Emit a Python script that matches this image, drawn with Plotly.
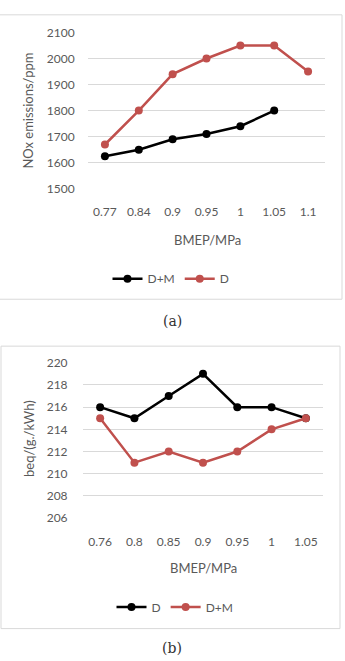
import plotly.graph_objects as go

# ---- data ----
bmep_a = ["0.77", "0.84", "0.9", "0.95", "1", "1.05", "1.1"]
nox_dm = [1625, 1650, 1690, 1710, 1740, 1800]
nox_d = [1670, 1800, 1940, 2000, 2050, 2050, 1950]

bmep_b = ["0.76", "0.8", "0.85", "0.9", "0.95", "1", "1.05"]
beq_d = [216, 215, 217, 219, 216, 216, 215]
beq_dm = [215, 211, 212, 211, 212, 214, 215]

W, H = 345, 661
BLACK = "#000000"
RED = "#C0504D"
GRID = "#D9D9D9"
TXT = "#595959"
FONT = "Lato"


def px(x):
    return x / W


def py(y):
    return 1 - y / H


fig = go.Figure()

fig.add_trace(go.Scatter(x=bmep_a[:len(nox_dm)], y=nox_dm, name="D+M", mode="lines+markers",
                         line=dict(color=BLACK, width=2.5), marker=dict(size=8, color=BLACK),
                         xaxis="x", yaxis="y", legend="legend"))
fig.add_trace(go.Scatter(x=bmep_a, y=nox_d, name="D", mode="lines+markers",
                         line=dict(color=RED, width=2.5), marker=dict(size=8, color=RED),
                         xaxis="x", yaxis="y", legend="legend"))
fig.add_trace(go.Scatter(x=bmep_b, y=beq_d, name="D", mode="lines+markers",
                         line=dict(color=BLACK, width=2.5), marker=dict(size=8, color=BLACK),
                         xaxis="x2", yaxis="y2", legend="legend2"))
fig.add_trace(go.Scatter(x=bmep_b, y=beq_dm, name="D+M", mode="lines+markers",
                         line=dict(color=RED, width=2.5), marker=dict(size=8, color=RED),
                         xaxis="x2", yaxis="y2", legend="legend2"))

axis_common = dict(showline=False, zeroline=False, tickfont=dict(family=FONT, size=12, color=TXT))

fig.update_layout(
    width=W, height=H,
    margin=dict(l=0, r=0, t=0, b=0),
    paper_bgcolor="white", plot_bgcolor="white",
    font=dict(family=FONT, color=TXT),
    xaxis=dict(domain=[px(88), px(325)], type="category", categoryorder="array", categoryarray=bmep_a,
               range=[-0.5, 6.5], showgrid=False, anchor="y",
               ticks="outside", ticklen=12, tickcolor="rgba(0,0,0,0)", **axis_common),
    yaxis=dict(domain=[py(185), py(25)], range=[1500, 2100], dtick=100, showgrid=True, gridcolor=GRID,
               gridwidth=1, anchor="x", ticks="outside", ticklen=10, tickcolor="rgba(0,0,0,0)", **axis_common),
    xaxis2=dict(domain=[px(83), px(323)], type="category", categoryorder="array", categoryarray=bmep_b,
                range=[-0.5, 6.5], showgrid=False, anchor="y2",
                ticks="outside", ticklen=12, tickcolor="rgba(0,0,0,0)", **axis_common),
    yaxis2=dict(domain=[py(522), py(363)], range=[206, 220], dtick=2, showgrid=True, gridcolor=GRID,
                gridwidth=1, anchor="x2", ticks="outside", ticklen=12, tickcolor="rgba(0,0,0,0)", **axis_common),
    legend=dict(orientation="h", x=px(171), y=py(277), xanchor="center", yanchor="middle",
                font=dict(family=FONT, size=12, color=TXT), bgcolor="rgba(0,0,0,0)", itemwidth=30),
    legend2=dict(orientation="h", x=px(175), y=py(613), xanchor="center", yanchor="middle",
                 font=dict(family=FONT, size=12, color=TXT), bgcolor="rgba(0,0,0,0)", itemwidth=30),
    shapes=[
        dict(type="rect", xref="paper", yref="paper", x0=px(-1), x1=px(342), y0=py(298), y1=py(7),
             line=dict(color=GRID, width=1), layer="below"),
        dict(type="rect", xref="paper", yref="paper", x0=px(1), x1=px(340), y0=py(635), y1=py(346),
             line=dict(color=GRID, width=1), layer="below"),
    ],
    annotations=[
        dict(text="NOx emissions/ppm", x=px(28), y=py(105), xref="paper", yref="paper", textangle=-90,
             showarrow=False, font=dict(family=FONT, size=13, color=TXT), xanchor="center", yanchor="middle"),
        dict(text="BMEP/MPa", x=px(207), y=py(237), xref="paper", yref="paper",
             showarrow=False, font=dict(family=FONT, size=13, color=TXT), xanchor="center", yanchor="middle"),
        dict(text="(a)", x=px(172), y=py(320), xref="paper", yref="paper",
             showarrow=False, font=dict(family="DejaVu Serif", size=14, color="#333333"), xanchor="center", yanchor="middle"),
        dict(text="beq/(g./kWh)", x=px(29), y=py(441), xref="paper", yref="paper", textangle=-90,
             showarrow=False, font=dict(family=FONT, size=13, color=TXT), xanchor="center", yanchor="middle"),
        dict(text="BMEP/MPa", x=px(203), y=py(573), xref="paper", yref="paper",
             showarrow=False, font=dict(family=FONT, size=13, color=TXT), xanchor="center", yanchor="middle"),
        dict(text="(b)", x=px(172), y=py(655), xref="paper", yref="paper",
             showarrow=False, font=dict(family="DejaVu Serif", size=14, color="#333333"), xanchor="center", yanchor="middle"),
    ],
)

fig.write_html("out.html")
